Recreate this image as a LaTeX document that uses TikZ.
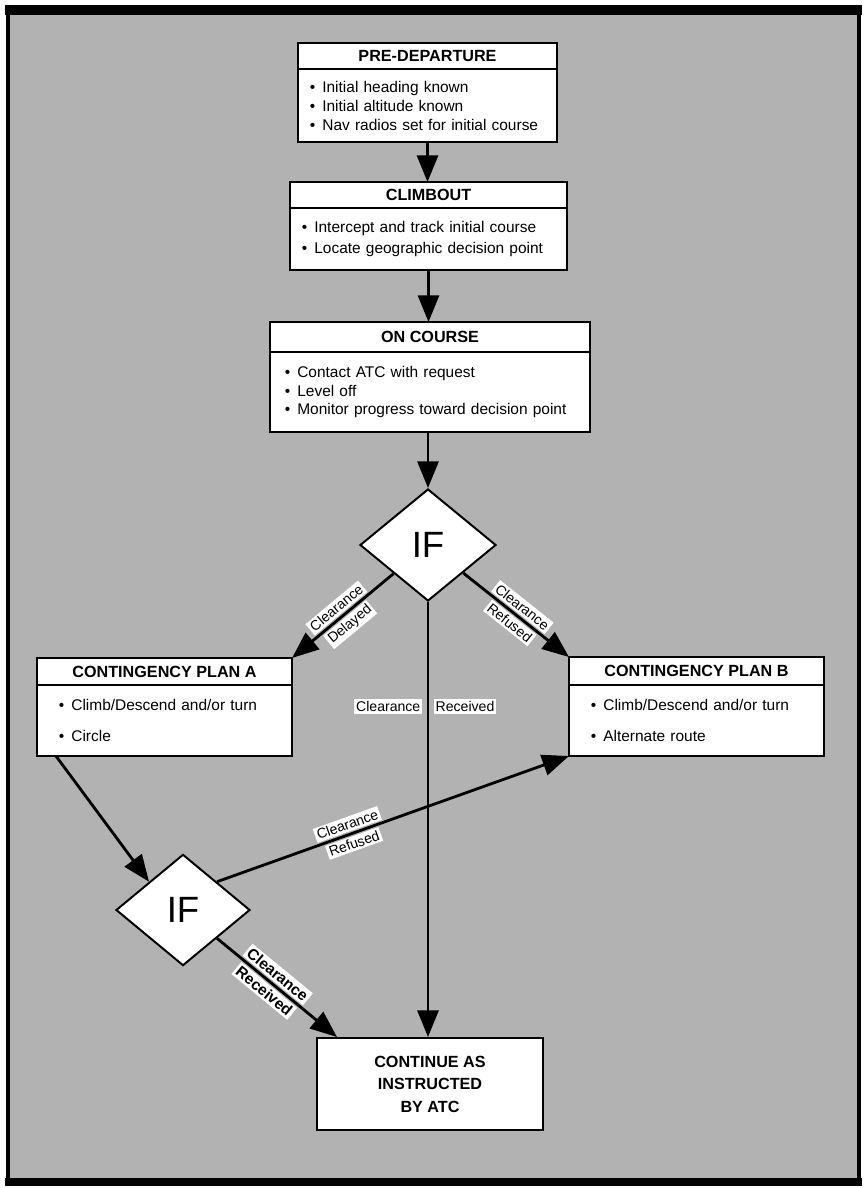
\documentclass[tikz,border=0pt]{standalone}
\usepackage{fontspec}
\setmainfont{Liberation Sans}
\usepackage{tikz}
\usetikzlibrary{shapes.geometric, arrows.meta, positioning}
\definecolor{screen}{gray}{0.7}
\tikzstyle{boxhead} = [rectangle, draw=black, line width=1.4pt, outer sep=0pt, fill=white, inner sep=0pt, font=\fontsize{11.5}{13.5}\selectfont\bfseries]
\tikzstyle{boxbody} = [rectangle, draw=black, line width=1.4pt, outer sep=0pt, fill=white, align=left, inner xsep=0.3cm, inner ysep=0pt, font=\fontsize{11}{13.5}\selectfont]
\tikzstyle{decision} = [diamond, draw=black, line width=1.4pt, fill=white, inner sep=0pt, font=\fontsize{26}{26}\selectfont]
\tikzstyle{final} = [rectangle, draw=black, line width=1.4pt, fill=white, align=center, font=\fontsize{11.5}{16}\selectfont\bfseries]
\tikzstyle{arrow} = [line width=2pt, ->, >={Triangle[length=19pt, width=15pt]}]
\tikzstyle{lbl} = [fill=white, inner sep=1.5pt, font=\fontsize{10}{11}\selectfont]
\newcommand{\itm}{\textbullet\hspace{0.45em}}

\begin{document}
\begin{tikzpicture}[x=0.025cm, y=-0.025cm]
	\useasboundingbox (0,0) rectangle (864,1188);
	% screened page with frame
	\fill[screen] (8,10) rectangle (859,1182);
	\draw[line width=2.5pt] (8,10) rectangle (859,1182);
	\draw[line width=7pt] (5,10) -- (862,10);
	\draw[line width=5pt] (5,1182) -- (862,1182);

	\node (predep) [boxhead, minimum width=6.475cm, minimum height=0.65cm] at (427.5,56) {PRE-DEPARTURE};
	\node (predepbody) [boxbody, text width=5.875cm, minimum height=1.825cm, below=0pt of predep] {\itm Initial heading known\\ \itm Initial altitude known\\ \itm Nav radios set for initial course};
	\node (climbout) [boxhead, minimum width=6.925cm, minimum height=0.65cm] at (428.5,195) {CLIMBOUT};
	\node (climbbody) [boxbody, text width=6.325cm, minimum height=1.55cm, below=0pt of climbout] {\itm Intercept and track initial course\\[1.5pt] \itm Locate geographic decision point};
	\node (oncourse) [boxhead, minimum width=8cm, minimum height=0.75cm] at (430,337) {ON COURSE};
	\node (oncoursebody) [boxbody, inner xsep=0.375cm, text width=7.25cm, minimum height=2cm, below=0pt of oncourse] {\itm Contact ATC with request\\ \itm Level off\\ \itm Monitor progress toward decision point};
	\node (if1) [decision, minimum width=3.4cm, minimum height=2.8cm] at (428,545) {IF};
	\node (planA) [boxhead, minimum width=6.375cm, minimum height=0.675cm] at (164.5,671.5) {CONTINGENCY PLAN A};
	\node (planAbody) [boxbody, inner xsep=0.55cm, text width=5.275cm, minimum height=1.775cm, below=0pt of planA] {\itm Climb/Descend and/or turn\\[9pt] \itm Circle};
	\node (planB) [boxhead, minimum width=6.375cm, minimum height=0.7cm] at (696.5,671) {CONTINGENCY PLAN B};
	\node (planBbody) [boxbody, inner xsep=0.55cm, text width=5.275cm, minimum height=1.775cm, below=0pt of planB] {\itm Climb/Descend and/or turn\\[9pt] \itm Alternate route};
	\node (if2) [decision, minimum width=3.35cm, minimum height=2.78cm] at (183,910) {IF};
	\node (cont) [final, minimum width=5.65cm, minimum height=2.3cm] at (430,1084) {CONTINUE AS\\INSTRUCTED\\BY ATC};

	\draw [arrow] (predepbody.south) -- (predepbody.south |- climbout.north);
	\draw [arrow] (climbbody.south) -- (climbbody.south |- oncourse.north);
	\draw [arrow] (if1.north |- oncoursebody.south) -- (if1.north);
	\draw [arrow] (if1) -- node[lbl, sloped, above=1pt] {Clearance} node[lbl, sloped, below=1pt] {Delayed} (planA.north east);
	\draw [arrow] (if1) -- node[lbl, sloped, above=1pt] {Clearance} node[lbl, sloped, below=1pt] {Refused} (planB.north west);
	\draw [arrow] (if1.south) -- node[lbl, pos=0.24, left=3pt] {Clearance} node[lbl, pos=0.24, right=3pt] {Received} (if1.south |- cont.north);
	\draw [arrow] ([xshift=0.475cm]planAbody.south west) -- (if2.north west);
	\draw [arrow] (if2.north east) -- node[lbl, sloped, pos=0.38, above=1pt] {Clearance} node[lbl, sloped, pos=0.38, below=1pt] {Refused} (planBbody.south west);
	\draw [arrow] (if2.south east) -- node[lbl, sloped, pos=0.45, above=1pt, font=\fontsize{11}{12}\selectfont\bfseries] {Clearance} node[lbl, sloped, pos=0.45, below=1pt, font=\fontsize{11}{12}\selectfont\bfseries] {Received} ([xshift=0.525cm]cont.north west);
\end{tikzpicture}
\end{document}
